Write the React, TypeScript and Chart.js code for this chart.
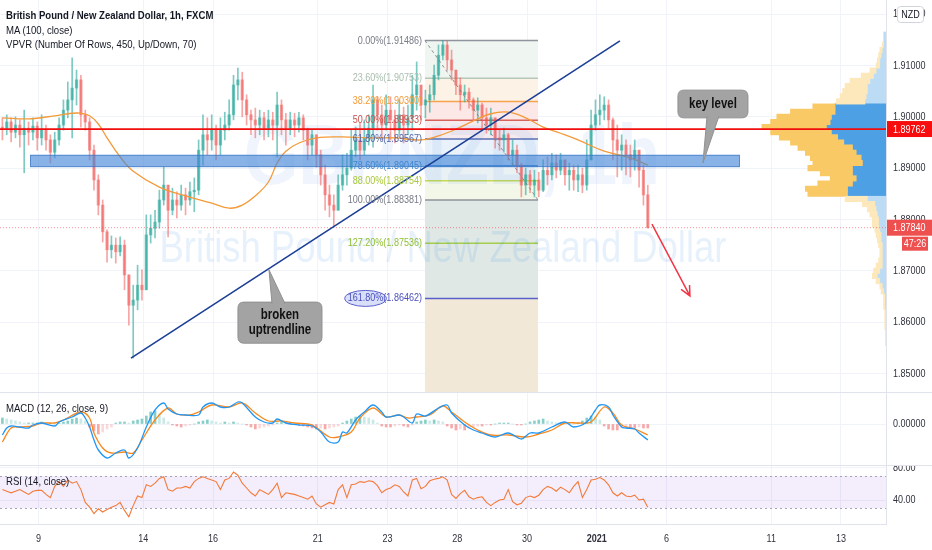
import React, { useEffect, useRef } from "react";
import { Chart, registerables } from "chart.js";

Chart.register(...registerables);

const FONT = '"Liberation Sans", Arial, sans-serif';
const NARROW = 0.82;
const LEGEND_NARROW = 0.87;

/* ---------------- texts ---------------- */
const titleLine = "British Pound / New Zealand Dollar, 1h, FXCM";
const maLegend = "MA (100, close)";
const vpLegend = "VPVR (Number Of Rows, 450, Up/Down, 70)";
const macdLegend = "MACD (12, 26, close, 9)";
const rsiLegend = "RSI (14, close)";
const watermarkSymbol = "GBPNZD, 1h";
const watermarkName = "British Pound / New Zealand Dollar";
const currencyBadge = "NZD";
const countdown = "47:26";

/* ---------------- time axis (trading days counted from 9 Dec 2020) ---------------- */
const dayTicks = [0, 3, 5, 8, 10, 12, 14, 16, 18, 21, 23];
const dayLabels = ["9", "14", "16", "21", "23", "28", "30", "2021", "6", "11", "13"];
const viewDays = [-1.106, 24.29];
const firstBarDay = -1.1;
const barDays = 0.125; // 3-hour candles

/* ---------------- price pane ---------------- */
const priceRange = [1.84639, 1.92276];
const priceTicks = [1.85, 1.86, 1.87, 1.88, 1.89, 1.9, 1.91, 1.92];
const firstOpen = 1.898;
const closes = [
  1.8978, 1.899, 1.897, 1.8984, 1.8965, 1.8978, 1.897, 1.8982, 1.8959, 1.8974,
  1.8955, 1.8931, 1.8955, 1.8984, 1.9013, 1.9033, 1.9056, 1.9072, 1.9004, 1.899,
  1.8935, 1.8877, 1.8828, 1.8776, 1.8741, 1.875, 1.8737, 1.875, 1.8692, 1.8633,
  1.8643, 1.8672, 1.8663, 1.877, 1.8783, 1.8795, 1.8838, 1.8867, 1.8818, 1.8838,
  1.8828, 1.8848, 1.8838, 1.8854, 1.8857, 1.8935, 1.8965, 1.8955, 1.8974, 1.8945,
  1.8974, 1.8984, 1.9004, 1.9062, 1.9072, 1.9033, 1.9004, 1.8994, 1.8984, 1.8998,
  1.8978, 1.8994, 1.8984, 1.9023, 1.8994, 1.8978, 1.8994, 1.8984, 1.8998, 1.8974,
  1.8945, 1.8965, 1.8926, 1.8887, 1.8848, 1.8828, 1.8818, 1.8867, 1.8887, 1.89,
  1.8935, 1.8955, 1.8935, 1.8959, 1.8978, 1.9033, 1.9004, 1.8984, 1.9013, 1.8994,
  1.8974, 1.9004, 1.8984, 1.8998, 1.9043, 1.9062, 1.9023, 1.9033, 1.9043, 1.9081,
  1.912, 1.914, 1.9111, 1.9091, 1.9062, 1.9043, 1.9048, 1.9033, 1.9013, 1.9023,
  1.8998, 1.8984, 1.8998, 1.8959, 1.8955, 1.8965, 1.8926, 1.8935, 1.8906, 1.8867,
  1.8887, 1.8867, 1.8877, 1.8857, 1.8896, 1.8887, 1.891, 1.8896, 1.8916, 1.8887,
  1.8896, 1.8877, 1.8887, 1.8867, 1.8916, 1.8984, 1.9004, 1.9013, 1.9023, 1.8994,
  1.8955, 1.8935, 1.8945, 1.8926, 1.8916, 1.8935, 1.8896, 1.8848, 1.8784,
];
const highs = [
  1.8998, 1.9004, 1.8998, 1.9, 1.8994, 1.9013, 1.899, 1.8998, 1.899, 1.9004,
  1.8984, 1.8965, 1.897, 1.8998, 1.9033, 1.9068, 1.9115, 1.9091, 1.9081, 1.9013,
  1.8998, 1.8945, 1.8887, 1.8838, 1.878, 1.8768, 1.8764, 1.8766, 1.876, 1.8692,
  1.8672, 1.8711, 1.8702, 1.8809, 1.8809, 1.8818, 1.8857, 1.8902, 1.8867, 1.8861,
  1.8854, 1.8867, 1.8861, 1.8873, 1.8881, 1.8955, 1.9004, 1.8998, 1.9004, 1.8984,
  1.8998, 1.9009, 1.9033, 1.9081, 1.9095, 1.9087, 1.9043, 1.9013, 1.9017, 1.9013,
  1.9009, 1.9013, 1.9009, 1.9048, 1.9033, 1.9007, 1.9009, 1.9007, 1.9009, 1.9004,
  1.8978, 1.8974, 1.8965, 1.8935, 1.8906, 1.8867, 1.8848, 1.8887, 1.8926, 1.8929,
  1.8974, 1.898, 1.8988, 1.8994, 1.9004, 1.9062, 1.9039, 1.9023, 1.9043, 1.9039,
  1.9013, 1.9033, 1.9019, 1.9023, 1.9081, 1.9107, 1.9052, 1.9052, 1.9062, 1.9101,
  1.914, 1.9149, 1.9148, 1.913, 1.9091, 1.9076, 1.9062, 1.9056, 1.9037, 1.9037,
  1.9027, 1.9017, 1.9017, 1.8994, 1.8974, 1.8978, 1.8968, 1.8955, 1.8945, 1.891,
  1.89, 1.8896, 1.8896, 1.8892, 1.8916, 1.8922, 1.8929, 1.8926, 1.8929, 1.8916,
  1.891, 1.8906, 1.8906, 1.89, 1.8955, 1.9013, 1.9033, 1.9043, 1.9039, 1.9033,
  1.8998, 1.8984, 1.8965, 1.8955, 1.8945, 1.8955, 1.8926, 1.8906, 1.8867,
];
const lows = [
  1.8955, 1.8965, 1.8951, 1.8959, 1.8941, 1.8891, 1.8945, 1.8955, 1.8935, 1.8945,
  1.8935, 1.891, 1.892, 1.8945, 1.8974, 1.8998, 1.8959, 1.9023, 1.898, 1.8974,
  1.8916, 1.8857, 1.8809, 1.8756, 1.8717, 1.8725, 1.8715, 1.8729, 1.8663, 1.8594,
  1.853, 1.8624, 1.8643, 1.8663, 1.8754, 1.8764, 1.8783, 1.8828, 1.8766, 1.8809,
  1.8803, 1.8818, 1.8809, 1.8828, 1.8815, 1.8848, 1.8906, 1.8926, 1.8935, 1.8916,
  1.8926, 1.8955, 1.8974, 1.8994, 1.9033, 1.9, 1.8984, 1.8965, 1.8959, 1.8965,
  1.8955, 1.8961, 1.8955, 1.8922, 1.8965, 1.8945, 1.8965, 1.8961, 1.897, 1.8955,
  1.8916, 1.8926, 1.8902, 1.8867, 1.8818, 1.8805, 1.8785, 1.8828, 1.8857, 1.8867,
  1.8896, 1.8922, 1.8916, 1.8926, 1.8945, 1.8941, 1.8974, 1.8955, 1.8974, 1.8955,
  1.8949, 1.8965, 1.8949, 1.8965, 1.8974, 1.9013, 1.8994, 1.8998, 1.9009, 1.9033,
  1.9072, 1.9111, 1.9091, 1.9072, 1.9043, 1.9013, 1.9029, 1.9017, 1.8994, 1.8988,
  1.8978, 1.8968, 1.8965, 1.8939, 1.8935, 1.8931, 1.8916, 1.8906, 1.8891, 1.8844,
  1.8848, 1.8852, 1.8844, 1.8844, 1.8854, 1.8867, 1.8877, 1.8881, 1.8887, 1.8867,
  1.8857, 1.8857, 1.8854, 1.8852, 1.8857, 1.8916, 1.8974, 1.8984, 1.8994, 1.8978,
  1.8916, 1.8883, 1.8896, 1.8887, 1.8883, 1.8896, 1.8863, 1.8828, 1.8783,
];
/* MA(100) read at these candle indices */
const maBars = [0, 6, 12, 16, 18, 20, 22, 24, 27, 30, 36, 42, 48, 52, 55, 58, 61, 63, 65, 68, 72, 78, 84, 90, 96, 100, 104, 108, 112, 116, 120, 124, 128, 132, 138, 144, 148];
const maValues = [1.8998, 1.8996, 1.9002, 1.9007, 1.9007, 1.9002, 1.8986, 1.8959, 1.8922, 1.8894, 1.8863, 1.8846, 1.8832, 1.8822, 1.8828, 1.8846, 1.8873, 1.891, 1.8933, 1.8949, 1.8959, 1.8961, 1.8959, 1.8959, 1.8955, 1.8963, 1.8976, 1.8992, 1.9006, 1.9009, 1.8998, 1.898, 1.8968, 1.8955, 1.8933, 1.892, 1.8906];

/* volume profile (VPVR) rows */
const vpPrices = [
  1.916, 1.915, 1.914, 1.913, 1.912, 1.911, 1.91, 1.909, 1.908, 1.907, 1.906, 1.905, 1.904, 1.903, 1.902, 1.901,
  1.9, 1.899, 1.898, 1.897, 1.896, 1.895, 1.894, 1.893, 1.892, 1.891, 1.89, 1.889, 1.888, 1.887, 1.886, 1.885,
  1.884, 1.883, 1.882, 1.881, 1.88, 1.879, 1.878, 1.877, 1.876, 1.875, 1.874, 1.873, 1.872, 1.871, 1.87, 1.869,
  1.868, 1.867, 1.866, 1.865, 1.864, 1.863, 1.862, 1.861, 1.86, 1.859, 1.858, 1.857, 1.856,
];
const vpUp = [
  0, 0, 1, 2, 2, 2, 3, 5, 10, 16, 18, 20, 21, 23, 18, 36,
  44, 48, 52, 49, 47, 43, 44, 41, 41, 40, 36, 26, 21, 28, 34, 32,
  18, 10, 7, 6, 5, 5, 4, 4, 3, 3, 2, 2, 3, 5, 5, 4,
  3, 2, 2, 1, 1, 1, 0.5, 0.5, 0.5, 0.5, 0.5, 0.5, 0.5,
];
const vpDown = [
  2, 2, 2, 3, 4, 5, 5, 8, 10, 13, 15, 15, 16, 17, 41, 41,
  44, 45, 48, 44, 39, 34, 27, 24, 20, 19, 27, 27, 24, 27, 31, 31,
  15, 9, 8, 7, 6, 6, 5, 4, 4, 3, 3, 3, 3, 3, 5, 7,
  5, 3, 2, 1, 1, 1, 0.5, 0.5, 0.5, 0.5, 0, 0, 0,
];
const valueArea = [1.885, 1.902];
const vpAxisMax = 714;

/* drawings */
const keyLinePrice = 1.89762;
const keyZoneDays = [-0.246, 20.104];
const keyZonePrices = [1.8926, 1.8902];
const trendFrom = [2.649, 1.853];
const trendTo = [16.664, 1.9148];
const arrowFrom = [17.581, 1.8791];
const arrowTo = [18.67, 1.8651];
const fibHigh = 1.91486;
const fibLow = 1.88381;
const fibDays = [11.075, 14.314];
const fibLevels = [0, 0.236, 0.382, 0.5, 0.618, 0.786, 0.88, 1, 1.272, 1.618];
const callouts = [
  { lines: ["broken", "uptrendline"], days: [5.715, 8.123], prices: [1.8639, 1.8559], tip: [6.604, 1.8702], base: [6.69, 7.063], side: "top" },
  { lines: ["key level"], days: [18.327, 20.333], prices: [1.9052, 1.8998], tip: [19.043, 1.891], base: [19.16, 19.5], side: "bottom" },
];

/* ---------------- MACD pane (values in pips) ---------------- */
const macdRange = [-41, 32];
const macdTicks = [0];
const macdBars = [0, 1, 2, 4, 6, 7, 9, 12, 13, 16, 18, 19, 20, 21, 22, 24, 26, 28, 29, 31, 33, 35, 37, 38, 40, 42, 45, 46, 48, 50, 52, 54, 55, 58, 60, 62, 63, 65, 68, 71, 73, 75, 77, 78, 79, 81, 83, 85, 87, 88, 91, 92, 94, 95, 97, 100, 102, 103, 106, 108, 110, 113, 116, 119, 121, 123, 126, 129, 131, 134, 136, 137, 139, 140, 142, 143, 145, 146, 148];
const macdValues = [-11, -4, -2, -3, -4, -1, 1, -2, 2, 7, 11, 6, -3, -16, -26, -34, -29, -26, -34, -24, -3, 14, 21, 15, 10, 9, 9, 17, 21, 17, 17, 22, 21, 7, 2, 1, 5, 1, -1, -2, -8, -18, -18, -8, -9, 4, 12, 19, 12, 7, 9, 7, 1, 10, 8, 16, 19, 11, -1, -6, -9, -13, -9, -15, -9, -9, -3, 2, -3, 2, 14, 19, 17, 9, -3, -4, -5, -9, -16];
const signalBars = [0, 2, 4, 7, 9, 12, 14, 18, 20, 21, 23, 25, 28, 30, 32, 35, 38, 40, 43, 45, 48, 52, 55, 58, 61, 64, 67, 71, 75, 77, 80, 82, 85, 88, 91, 93, 95, 98, 101, 103, 106, 109, 112, 116, 120, 123, 126, 129, 132, 135, 138, 140, 142, 145, 148];
const signalValues = [-18, -4, -3, -2, 1, 1, 4, 12, 6, -9, -24, -29, -28, -29, -16, 4, 16, 10, 9, 12, 19, 17, 21, 11, 3, 3, 1, -1, -13, -13, -8, 6, 16, 7, 9, 6, 7, 9, 18, 12, 2, -6, -11, -11, -13, -10, -6, 1, 1, 2, 17, 11, -1, -5, -11];
const histValues = [
  6, 5, 4, 3, 2, 1, 1, 1, 1, 2, 1, 1, 0, 1, 2, 3, 5, 6, 5, 3,
  -3, -7, -10, -8, -5, -3, 1, 2, 2, 1, 3, 4, 5, 8, 12, 13, 10, 6, 2, -1,
  -2, -3, -2, -1, 0, 2, 3, 4, 3, 2, 1, 2, 1, 2, 1, 0, -1, -3, -5, -4,
  -3, -2, -1, 1, 2, 1, 1, 0, -1, -2, -3, -4, -5, -4, -5, -4, -3, -2, 1, 3,
  5, 7, 8, 7, 6, 4, 1, -2, -3, -3, -2, -1, -2, -3, -1, 2, 3, 4, 3, 4,
  3, 2, -2, -4, -6, -5, -6, -4, -3, -2, -2, -1, -1, 0, 1, 1, 1, 0, -1, -1,
  0, 2, 3, 4, 5, 3, 2, 1, 1, 0, 1, 0, 1, 3, 6, 8, 7, 4, -2, -5,
  -6, -6, -4, -3, -4, -4, -3, -4, -4,
];

/* ---------------- RSI pane ---------------- */
const rsiRange = [10, 83.75];
const rsiTicks = [40, 80];
const rsiBand = [30, 70];
const rsiValues = [
  53, 51, 49, 51, 53, 50, 47, 51, 52, 52, 47, 43, 57, 63, 57, 65, 61, 63, 53, 37,
  31, 23, 29, 25, 28, 31, 33, 37, 27, 19, 33, 45, 43, 59, 57, 61, 67, 69, 53, 51,
  55, 55, 57, 55, 63, 67, 69, 67, 65, 63, 53, 65, 67, 75, 71, 61, 55, 49, 45, 53,
  50, 47, 53, 61, 43, 49, 48, 47, 45, 43, 41, 45, 35, 31, 34, 37, 35, 53, 59, 43,
  59, 60, 63, 62, 64, 63, 58, 49, 53, 55, 59, 57, 50, 45, 65, 67, 54, 57, 64, 66,
  67, 69, 65, 47, 42, 48, 52, 44, 41, 43, 44, 37, 33, 37, 40, 41, 53, 38, 34, 36,
  43, 45, 43, 46, 53, 57, 55, 51, 56, 53, 49, 57, 63, 43, 53, 65, 66, 68, 65, 59,
  49, 45, 49, 45, 44, 46, 40, 41, 31,
];

/* ---------------- styles ---------------- */
const AXIS_W = 46;
const GRID = "#f0f3fa";
const SEP = "#e0e3eb";
const TEXT = "#2f323c";
const UP = "rgba(38,166,154,0.6)";
const DOWN = "rgba(239,83,80,0.52)";
const MA_COLOR = "#f39a38";
const VP_UP = "#f9c966";
const VP_DOWN = "#4ea0e4";
const VP_UP_L = "#fde8bb";
const VP_DOWN_L = "#bcdcf5";
const fibLineColors = ["#8f939c", "#b6c8ba", "#f5a44b", "#d7625c", "#5b70b3", "#4a8bd6", "#c3da55", "#8f939c", "#a3cd4b", "#5a5fc9"];
const fibLabelColors = ["#787b86", "#a9bdae", "#f29a36", "#c9504b", "#4f63a6", "#3f86d0", "#a9c93a", "#787b86", "#8fbf34", "#4a4fbf"];
const fibFills = ["#eff5f0", "#fdf2e6", "#fce8e6", "#f5ebef", "#e9f1fa", "#eaf1f5", "#f3f7e7", "#dfe8e5", "#dfe8e5", "#f2e8d8"];

const barTime = (i: number) => firstBarDay + (i + 0.5) * barDays;
const fibPrice = (lvl: number) => fibHigh - lvl * (fibHigh - fibLow);
const isYear = (s: string) => /^\d{4}$/.test(s || "");

function narrowText(ctx: any, text: string, x: number, y: number, align: string, font: string) {
  ctx.save();
  ctx.font = font;
  ctx.translate(x, y);
  ctx.scale(NARROW, 1);
  ctx.textAlign = align;
  ctx.textBaseline = "middle";
  ctx.fillText(text, 0, 0);
  ctx.restore();
}

function xScale(fullHeight: number): any {
  return {
    type: "linear",
    min: viewDays[0],
    max: viewDays[1],
    offset: false,
    afterBuildTicks: (s: any) => {
      s.ticks = dayTicks.map((v) => ({ value: v }));
    },
    grid: { color: GRID, drawTicks: false, offset: false },
    border: { display: fullHeight > 0, color: SEP },
    ticks: { display: false },
    afterFit: (s: any) => {
      s.height = fullHeight;
      s.paddingLeft = 0;
      s.paddingRight = 0;
    },
  };
}

function yScale(range: number[], ticks: number[]): any {
  return {
    type: "linear",
    position: "right",
    min: range[0],
    max: range[1],
    offset: false,
    afterBuildTicks: (s: any) => {
      s.ticks = ticks.map((v) => ({ value: v }));
    },
    grid: { color: GRID, drawTicks: false, offset: false },
    border: { display: true, color: SEP },
    ticks: { display: false },
    afterFit: (s: any) => {
      s.width = AXIS_W;
      s.paddingTop = 0;
      s.paddingBottom = 0;
    },
  };
}

/* draws the axis labels (kept as canvas text) in a condensed style */
function labelPlugin(ticks: number[], fmt: (v: number) => string, withDays: boolean) {
  return {
    id: "axisLabels",
    afterDatasetsDraw(chart: any) {
      const { ctx, chartArea: ca, scales } = chart;
      ctx.save();
      ctx.fillStyle = TEXT;
      ticks.forEach((v) => narrowText(ctx, fmt(v), ca.right + 7, scales.y.getPixelForValue(v), "left", `11px ${FONT}`));
      if (withDays) {
        dayTicks.forEach((d, k) => {
          const lab = dayLabels[k];
          narrowText(ctx, lab, scales.x.getPixelForValue(d), ca.bottom + 14.5, "center", `${isYear(lab) ? "bold " : ""}11px ${FONT}`);
        });
      }
      ctx.restore();
    },
  };
}

const baseOptions: any = {
  responsive: true,
  maintainAspectRatio: false,
  animation: false,
  events: [],
  layout: { padding: 0 },
  plugins: { legend: { display: false }, tooltip: { enabled: false } },
};

function fitText(ctx: any, text: string, cx: number, baseline: number, width: number, weight: string, color: string) {
  ctx.save();
  ctx.font = `${weight} 100px ${FONT}`;
  const w = ctx.measureText(text).width * NARROW;
  ctx.font = `${weight} ${(100 * width) / w}px ${FONT}`;
  ctx.fillStyle = color;
  ctx.textAlign = "center";
  ctx.textBaseline = "alphabetic";
  ctx.translate(cx, baseline);
  ctx.scale(NARROW, 1);
  ctx.fillText(text, 0, 0);
  ctx.restore();
}

function roundRectPath(ctx: any, x: number, y: number, w: number, h: number, r: number) {
  ctx.beginPath();
  ctx.moveTo(x + r, y);
  ctx.lineTo(x + w - r, y);
  ctx.quadraticCurveTo(x + w, y, x + w, y + r);
  ctx.lineTo(x + w, y + h - r);
  ctx.quadraticCurveTo(x + w, y + h, x + w - r, y + h);
  ctx.lineTo(x + r, y + h);
  ctx.quadraticCurveTo(x, y + h, x, y + h - r);
  ctx.lineTo(x, y + r);
  ctx.quadraticCurveTo(x, y, x + r, y);
  ctx.closePath();
}

const pricePlugin = {
  id: "priceDecor",
  beforeDatasetsDraw(chart: any) {
    const { ctx, chartArea: ca, scales } = chart;
    const X = (v: number) => scales.x.getPixelForValue(v);
    const Y = (v: number) => scales.y.getPixelForValue(v);
    ctx.save();
    ctx.beginPath();
    ctx.rect(ca.left, ca.top, ca.right - ca.left, ca.bottom - ca.top);
    ctx.clip();
    const fx0 = X(fibDays[0]);
    const fx1 = X(fibDays[1]);
    const fp = fibLevels.map(fibPrice);
    fp.forEach((p, k) => {
      const top = Y(p);
      const bot = k < fp.length - 1 ? Y(fp[k + 1]) : ca.bottom;
      ctx.fillStyle = fibFills[k];
      ctx.fillRect(fx0, top, fx1 - fx0, bot - top);
    });
    fp.forEach((p, k) => {
      ctx.strokeStyle = fibLineColors[k];
      ctx.lineWidth = 1.5;
      const yy = Y(p);
      ctx.beginPath();
      ctx.moveTo(fx0, yy);
      ctx.lineTo(fx1, yy);
      ctx.stroke();
    });
    const w = ca.right - ca.left;
    const h = ca.bottom - ca.top;
    fitText(ctx, watermarkSymbol, ca.left + w * 0.51, ca.top + h * 0.47, w * 0.47, "bold", "rgba(40,120,220,0.07)");
    fitText(ctx, watermarkName, ca.left + w * 0.5, ca.top + h * 0.668, w * 0.64, "normal", "rgba(40,130,230,0.11)");
    ctx.restore();
  },
  afterDatasetsDraw(chart: any) {
    const { ctx, chartArea: ca, scales } = chart;
    const X = (v: number) => scales.x.getPixelForValue(v);
    const Y = (v: number) => scales.y.getPixelForValue(v);
    const lastPrice = closes[closes.length - 1];
    ctx.save();
    ctx.beginPath();
    ctx.rect(ca.left, ca.top, ca.right - ca.left, ca.bottom - ca.top);
    ctx.clip();

    // key zone
    const kx0 = X(keyZoneDays[0]);
    const kx1 = X(keyZoneDays[1]);
    const ky0 = Y(keyZonePrices[0]);
    const ky1 = Y(keyZonePrices[1]);
    ctx.fillStyle = "rgba(64,132,214,0.62)";
    ctx.fillRect(kx0, ky0, kx1 - kx0, ky1 - ky0);
    ctx.strokeStyle = "rgba(50,110,190,0.6)";
    ctx.lineWidth = 1;
    ctx.strokeRect(kx0 + 0.5, ky0 + 0.5, kx1 - kx0 - 1, ky1 - ky0 - 1);

    // last price dotted line
    ctx.strokeStyle = "rgba(242,54,69,0.55)";
    ctx.lineWidth = 1;
    ctx.setLineDash([1, 2]);
    ctx.beginPath();
    ctx.moveTo(ca.left, Y(lastPrice));
    ctx.lineTo(ca.right, Y(lastPrice));
    ctx.stroke();
    ctx.setLineDash([]);

    // key horizontal line
    ctx.strokeStyle = "#f20d0d";
    ctx.lineWidth = 1.8;
    ctx.beginPath();
    ctx.moveTo(ca.left, Y(keyLinePrice));
    ctx.lineTo(ca.right, Y(keyLinePrice));
    ctx.stroke();

    // trend line
    ctx.strokeStyle = "#1b3f96";
    ctx.lineWidth = 1.6;
    ctx.beginPath();
    ctx.moveTo(X(trendFrom[0]), Y(trendFrom[1]));
    ctx.lineTo(X(trendTo[0]), Y(trendTo[1]));
    ctx.stroke();

    // fib diagonal
    ctx.strokeStyle = "rgba(120,123,134,0.85)";
    ctx.lineWidth = 1;
    ctx.setLineDash([3, 3]);
    ctx.beginPath();
    ctx.moveTo(X(fibDays[0]), Y(fibHigh));
    ctx.lineTo(X(fibDays[1]), Y(fibLow));
    ctx.stroke();
    ctx.setLineDash([]);

    // arrow
    const ax0 = X(arrowFrom[0]);
    const ay0 = Y(arrowFrom[1]);
    const ax1 = X(arrowTo[0]);
    const ay1 = Y(arrowTo[1]);
    const ang = Math.atan2(ay1 - ay0, ax1 - ax0);
    ctx.strokeStyle = "#f23645";
    ctx.lineWidth = 1.5;
    ctx.beginPath();
    ctx.moveTo(ax0, ay0);
    ctx.lineTo(ax1, ay1);
    ctx.moveTo(ax1 - 11 * Math.cos(ang - 0.45), ay1 - 11 * Math.sin(ang - 0.45));
    ctx.lineTo(ax1, ay1);
    ctx.lineTo(ax1 - 11 * Math.cos(ang + 0.45), ay1 - 11 * Math.sin(ang + 0.45));
    ctx.stroke();

    // callouts
    callouts.forEach((c) => {
      const x0 = X(c.days[0]);
      const x1 = X(c.days[1]);
      const y0 = Y(c.prices[0]);
      const y1 = Y(c.prices[1]);
      const tx = X(c.tip[0]);
      const ty = Y(c.tip[1]);
      const b0 = X(c.base[0]);
      const b1 = X(c.base[1]);
      const by = c.side === "top" ? y0 + 1.5 : y1 - 1.5;
      ctx.fillStyle = "#a3a3a3";
      ctx.strokeStyle = "#909090";
      ctx.lineWidth = 1;
      roundRectPath(ctx, x0, y0, x1 - x0, y1 - y0, 6);
      ctx.fill();
      ctx.stroke();
      ctx.beginPath();
      ctx.moveTo(b0, by);
      ctx.lineTo(tx, ty);
      ctx.lineTo(b1, by);
      ctx.closePath();
      ctx.fill();
      ctx.beginPath();
      ctx.moveTo(b0, by);
      ctx.lineTo(tx, ty);
      ctx.lineTo(b1, by);
      ctx.stroke();
      ctx.fillStyle = "#111";
      const cy = (y0 + y1) / 2;
      const lh = 15;
      c.lines.forEach((t, k) => {
        narrowText(ctx, t, (x0 + x1) / 2, cy + (k - (c.lines.length - 1) / 2) * lh, "center", `bold 14px ${FONT}`);
      });
    });

    // fib labels
    const lx = X(fibDays[0]) - 3;
    const labelFont = `11px ${FONT}`;
    fibLevels.forEach((lvl, k) => {
      const p = fibPrice(lvl);
      const pct = `${(lvl * 100).toFixed(2)}%`;
      const txt = `${pct}(${p.toFixed(5)})`;
      const yy = Y(p);
      if (k === fibLevels.length - 1) {
        ctx.font = labelFont;
        const wAll = ctx.measureText(txt).width * NARROW;
        const wPct = ctx.measureText(pct).width * NARROW;
        const ex = lx - wAll + wPct / 2;
        ctx.beginPath();
        ctx.ellipse(ex, yy, wPct / 2 + 3, 8, 0, 0, Math.PI * 2);
        ctx.fillStyle = "rgba(120,140,235,0.28)";
        ctx.fill();
        ctx.strokeStyle = "#5a5fc9";
        ctx.lineWidth = 1;
        ctx.stroke();
      }
      ctx.fillStyle = fibLabelColors[k];
      narrowText(ctx, txt, lx, yy, "right", labelFont);
    });
    ctx.restore();

    // axis tags
    ctx.save();
    const tagFont = `11px ${FONT}`;
    const tag = (price: number, bg: string) => {
      const yy = Y(price);
      ctx.fillStyle = bg;
      ctx.fillRect(ca.right + 1, yy - 8, AXIS_W - 1, 16);
      ctx.fillStyle = "#fff";
      narrowText(ctx, price.toFixed(5), ca.right + 7, yy + 0.5, "left", tagFont);
    };
    tag(keyLinePrice, "#f70d0d");
    tag(lastPrice, "#ee4f4f");
    const cyy = Y(lastPrice) + 16;
    ctx.fillStyle = "#ee4f4f";
    ctx.fillRect(ca.right + 16, cyy - 7, 26, 14);
    ctx.fillStyle = "#fff";
    narrowText(ctx, countdown, ca.right + 29, cyy + 0.5, "center", tagFont);
    // currency badge
    ctx.fillStyle = "#fff";
    ctx.strokeStyle = "#d1d4dc";
    ctx.lineWidth = 1;
    roundRectPath(ctx, ca.right + 11.5, ca.top + 6.5, 26, 16, 3);
    ctx.fill();
    ctx.stroke();
    ctx.fillStyle = "#131722";
    narrowText(ctx, currencyBadge, ca.right + 24.5, ca.top + 15, "center", `11px ${FONT}`);
    ctx.restore();
  },
};

const rsiPlugin = {
  id: "rsiBand",
  beforeDatasetsDraw(chart: any) {
    const { ctx, chartArea: ca, scales } = chart;
    const Y = (v: number) => scales.y.getPixelForValue(v);
    const yTop = Y(rsiBand[1]);
    const yBot = Y(rsiBand[0]);
    ctx.save();
    ctx.fillStyle = "rgba(156,110,230,0.12)";
    ctx.fillRect(ca.left, yTop, ca.right - ca.left, yBot - yTop);
    ctx.strokeStyle = "#a5a3b5";
    ctx.lineWidth = 1;
    ctx.setLineDash([2, 3]);
    [yTop, yBot].forEach((yy) => {
      ctx.beginPath();
      ctx.moveTo(ca.left, Math.round(yy) + 0.5);
      ctx.lineTo(ca.right, Math.round(yy) + 0.5);
      ctx.stroke();
    });
    ctx.restore();
  },
};

function makePrice(canvas: HTMLCanvasElement) {
  const opens = closes.map((_, i) => (i === 0 ? firstOpen : closes[i - 1]));
  const colors = closes.map((c, i) => (c >= opens[i] ? UP : DOWN));
  const inVA = (p: number) => p >= valueArea[0] - 1e-9 && p <= valueArea[1] + 1e-9;
  return new Chart(canvas, {
    type: "bar",
    data: {
      datasets: [
        {
          type: "bar",
          label: "VP down",
          indexAxis: "y",
          xAxisID: "xv",
          yAxisID: "y",
          data: vpPrices.map((p, k) => ({ x: [0, vpDown[k]], y: p })),
          backgroundColor: vpPrices.map((p) => (inVA(p) ? VP_DOWN : VP_DOWN_L)),
          barThickness: 5.4,
          grouped: false,
          order: 4,
        } as any,
        {
          type: "bar",
          label: "VP up",
          indexAxis: "y",
          xAxisID: "xv",
          yAxisID: "y",
          data: vpPrices.map((p, k) => ({ x: [vpDown[k], vpDown[k] + vpUp[k]], y: p })),
          backgroundColor: vpPrices.map((p) => (inVA(p) ? VP_UP : VP_UP_L)),
          barThickness: 5.4,
          grouped: false,
          order: 3,
        } as any,
        {
          type: "bar",
          label: "wicks",
          xAxisID: "x",
          yAxisID: "y",
          data: closes.map((c, i) => ({ x: barTime(i), y: [Math.min(lows[i], opens[i], c), Math.max(highs[i], opens[i], c)] })),
          backgroundColor: colors,
          barThickness: 1,
          grouped: false,
          order: 2,
        } as any,
        {
          type: "bar",
          label: "bodies",
          xAxisID: "x",
          yAxisID: "y",
          data: closes.map((c, i) => ({ x: barTime(i), y: [opens[i], c] })),
          backgroundColor: colors,
          barThickness: 2.6,
          minBarLength: 1,
          grouped: false,
          order: 1,
        } as any,
        {
          type: "line",
          label: maLegend,
          xAxisID: "x",
          yAxisID: "y",
          data: maBars.map((b, k) => ({ x: barTime(b), y: maValues[k] })),
          borderColor: MA_COLOR,
          borderWidth: 1.3,
          pointRadius: 0,
          tension: 0.4,
          order: 0,
        } as any,
      ],
    },
    options: {
      ...baseOptions,
      scales: {
        x: xScale(0),
        xv: { type: "linear", axis: "x", display: false, reverse: true, min: 0, max: vpAxisMax, offset: false, grid: { offset: false } },
        y: yScale(priceRange, priceTicks),
      },
    } as any,
    plugins: [labelPlugin(priceTicks, (v) => v.toFixed(5), false), pricePlugin],
  });
}

function makeMacd(canvas: HTMLCanvasElement) {
  const histColors = histValues.map((h, i) => {
    const prev = i > 0 ? histValues[i - 1] : 0;
    if (h >= 0) return h >= prev ? "rgba(38,166,154,0.55)" : "rgba(38,166,154,0.25)";
    return h <= prev ? "rgba(239,83,80,0.5)" : "rgba(239,83,80,0.22)";
  });
  return new Chart(canvas, {
    type: "bar",
    data: {
      datasets: [
        {
          type: "bar",
          label: "Histogram",
          data: histValues.map((h, i) => ({ x: barTime(i), y: h })),
          backgroundColor: histColors,
          barThickness: 2,
          grouped: false,
          order: 2,
        } as any,
        {
          type: "line",
          label: "Signal",
          data: signalBars.map((b, k) => ({ x: barTime(b), y: signalValues[k] })),
          borderColor: "#f7891e",
          borderWidth: 1.3,
          pointRadius: 0,
          tension: 0.35,
          order: 1,
        } as any,
        {
          type: "line",
          label: "MACD",
          data: macdBars.map((b, k) => ({ x: barTime(b), y: macdValues[k] })),
          borderColor: "#2196f3",
          borderWidth: 1.3,
          pointRadius: 0,
          tension: 0.35,
          order: 0,
        } as any,
      ],
    },
    options: {
      ...baseOptions,
      scales: {
        x: xScale(0),
        y: yScale(macdRange, macdTicks),
      },
    } as any,
    plugins: [labelPlugin(macdTicks, (v) => (v * 0.0001).toFixed(5), false)],
  });
}

function makeRsi(canvas: HTMLCanvasElement) {
  return new Chart(canvas, {
    type: "line",
    data: {
      datasets: [
        {
          label: rsiLegend,
          data: rsiValues.map((v, i) => ({ x: barTime(i), y: v })),
          borderColor: "#f47b39",
          borderWidth: 1.1,
          pointRadius: 0,
          tension: 0,
        } as any,
      ],
    },
    options: {
      ...baseOptions,
      scales: {
        x: xScale(26),
        y: yScale(rsiRange, rsiTicks),
      },
    } as any,
    plugins: [rsiPlugin, labelPlugin(rsiTicks, (v) => v.toFixed(2), true)],
  });
}

export default function App() {
  const priceRef = useRef<HTMLCanvasElement>(null);
  const macdRef = useRef<HTMLCanvasElement>(null);
  const rsiRef = useRef<HTMLCanvasElement>(null);

  useEffect(() => {
    Chart.defaults.font.family = FONT;
    Chart.defaults.color = TEXT;
    const charts = [makePrice(priceRef.current!), makeMacd(macdRef.current!), makeRsi(rsiRef.current!)];
    return () => charts.forEach((c) => c.destroy());
  }, []);

  const legendStyle: any = {
    position: "absolute",
    left: 6,
    fontSize: 11,
    lineHeight: "14.5px",
    color: "#131722",
    whiteSpace: "nowrap",
    pointerEvents: "none",
    fontFamily: FONT,
    transform: `scaleX(${LEGEND_NARROW})`,
    transformOrigin: "left top",
  };

  return (
    <div style={{ position: "absolute", left: 0, top: 0, width: 932, height: 550, background: "#fff", overflow: "hidden", fontFamily: FONT }}>
      <div style={{ position: "absolute", left: 0, top: 0, width: 932, height: 392 }}>
        <canvas ref={priceRef} />
      </div>
      <div style={{ position: "absolute", left: 0, top: 392, width: 932, height: 73 }}>
        <canvas ref={macdRef} />
      </div>
      <div style={{ position: "absolute", left: 0, top: 465, width: 932, height: 85 }}>
        <canvas ref={rsiRef} />
      </div>
      <div style={{ position: "absolute", left: 0, top: 392, width: 932, height: 1, background: SEP }} />
      <div style={{ position: "absolute", left: 0, top: 465, width: 932, height: 1, background: SEP }} />
      <div style={{ ...legendStyle, top: 8 }}>
        <div style={{ fontWeight: "bold" }}>{titleLine}</div>
        <div>{maLegend}</div>
        <div>{vpLegend}</div>
      </div>
      <div style={{ ...legendStyle, top: 401 }}>{macdLegend}</div>
      <div style={{ ...legendStyle, top: 474 }}>{rsiLegend}</div>
    </div>
  );
}
